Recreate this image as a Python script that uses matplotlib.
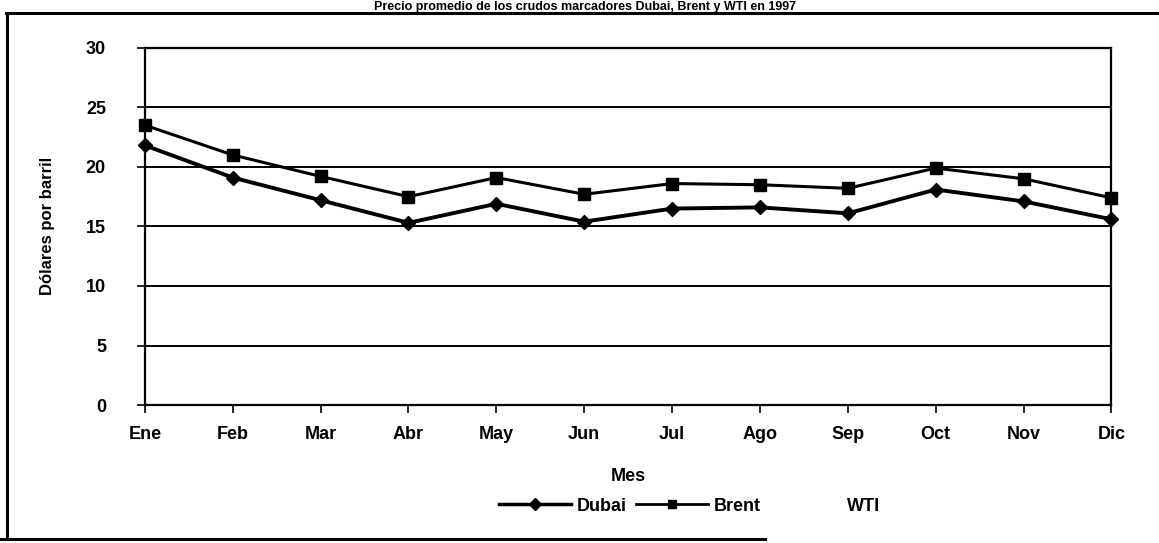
import matplotlib
matplotlib.use("Agg")
import matplotlib.pyplot as plt
from matplotlib.lines import Line2D

plt.rcParams['font.family'] = ['Liberation Sans', 'DejaVu Sans']

# data (dolares por barril, 1997)
meses = ['Ene', 'Feb', 'Mar', 'Abr', 'May', 'Jun', 'Jul', 'Ago', 'Sep', 'Oct', 'Nov', 'Dic']
dubai = [21.8, 19.1, 17.2, 15.3, 16.9, 15.4, 16.5, 16.6, 16.1, 18.1, 17.1, 15.6]
brent = [23.5, 21.0, 19.2, 17.5, 19.1, 17.7, 18.6, 18.5, 18.2, 19.9, 19.0, 17.4]
yticks = [0, 5, 10, 15, 20, 25, 30]

fig = plt.figure(figsize=(11.59, 5.43), dpi=100)
ax = fig.add_axes([0.125, 0.254, 0.834, 0.658])

x = list(range(len(meses)))
ax.plot(x, dubai, color='black', lw=2.8, marker='D', ms=7, clip_on=False, zorder=3)
ax.plot(x, brent, color='black', lw=2.2, marker='s', ms=8, clip_on=False, zorder=3)

ax.set_xlim(0, 11)
ax.set_ylim(0, 30)
ax.set_yticks(yticks)
ax.set_xticks(x)
ax.set_xticklabels(meses)
for v in yticks[1:-1]:
    ax.axhline(v, color='black', lw=1.4, zorder=1)

for s in ax.spines.values():
    s.set_linewidth(1.6)
ax.tick_params(axis='both', direction='out', length=6, width=1.2, labelsize=13)
ax.tick_params(axis='y', pad=22)
ax.tick_params(axis='x', pad=9)
for lab in ax.get_xticklabels() + ax.get_yticklabels():
    lab.set_fontweight('bold')

ax.set_ylabel('Dólares por barril', fontsize=12, fontweight='bold', labelpad=22)
ax.set_xlabel('Mes', fontsize=13, fontweight='bold', labelpad=18)

handles = [
    Line2D([], [], color='black', lw=2.5, marker='D', ms=6),
    Line2D([], [], color='black', lw=2.0, marker='s', ms=6),
    Line2D([], [], color='none'),
]
fig.legend(handles, ['Dubai', 'Brent', 'WTI'], loc='center',
           bbox_to_anchor=(0.595, 0.068), ncol=3, frameon=False,
           prop={'size': 13, 'weight': 'bold'}, handlelength=4.0,
           columnspacing=0.5, handletextpad=0.3)

# title, cut at the top edge in the scan
fig.text(0.505, 0.999, 'Precio promedio de los crudos marcadores Dubai, Brent y WTI en 1997',
         ha='center', va='top', fontsize=9, fontweight='bold')

# outer frame of the scanned chart
fig.add_artist(Line2D([0.005, 1.0], [0.976, 0.976], color='black', lw=2.2))
fig.add_artist(Line2D([0.006, 0.006], [0.976, 0.008], color='black', lw=2.2))
fig.add_artist(Line2D([0.0, 0.66], [0.008, 0.008], color='black', lw=2.2))

fig.savefig('out.png', dpi=100)
